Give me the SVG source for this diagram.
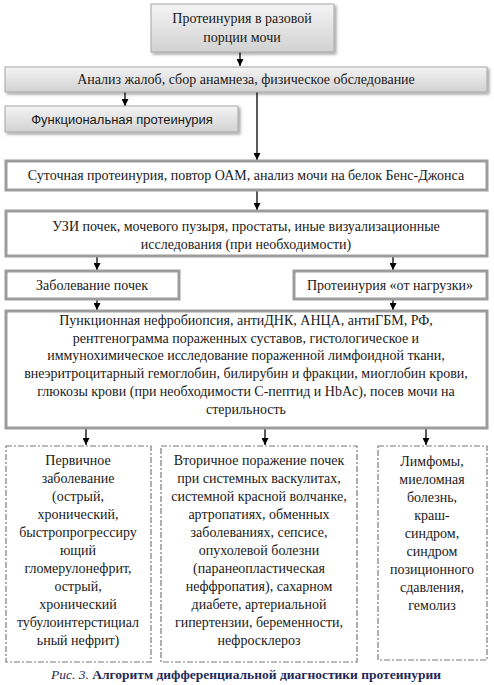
<svg xmlns="http://www.w3.org/2000/svg" width="494" height="685" viewBox="0 0 494 685">
<style>
  .t { font-family: "Liberation Serif", "Times New Roman", serif; font-size: 14px; fill: #1a1a1a; text-anchor: middle; }
  .s { font-family: "Liberation Sans", Arial, sans-serif; font-size: 13px; fill: #1a1a1a; text-anchor: middle; }
  .g { fill: url(#grad); stroke: #a6a6a6; stroke-width: 1; filter: url(#sh); }
  .b { fill: #ffffff; stroke: #9c9c9c; stroke-width: 3; }
  .d { fill: #ffffff; stroke: #7a7a7a; stroke-width: 1.2; stroke-dasharray: 6 2 2 2; }
  .c { stroke: #000; stroke-width: 1.3; fill: none; marker-end: url(#ah); }
  .cap { font-family: "Liberation Serif", "Times New Roman", serif; font-size: 13.5px; fill: #1f2a55; text-anchor: middle; }
</style>
<defs>
  <linearGradient id="grad" x1="0" y1="0" x2="0" y2="1">
    <stop offset="0" stop-color="#f4f4f4"/>
    <stop offset="1" stop-color="#d2d2d2"/>
  </linearGradient>
  <filter id="sh" x="-5%" y="-20%" width="115%" height="160%">
    <feDropShadow dx="2" dy="2" stdDeviation="1.5" flood-color="#000" flood-opacity="0.35"/>
  </filter>
  <marker id="ah" viewBox="0 0 10 10" refX="10" refY="5" markerWidth="7" markerHeight="7" markerUnits="userSpaceOnUse" orient="auto">
    <path d="M0,0 L10,5 L0,10 z" fill="#000"/>
  </marker>
</defs>

<g id="connectors">
  <line class="c" x1="240" y1="52" x2="240" y2="66"/>
  <line class="c" x1="125" y1="92" x2="125" y2="106"/>
  <line class="c" x1="257" y1="92" x2="257" y2="160"/>
  <line class="c" x1="257" y1="191" x2="257" y2="210"/>
  <line class="c" x1="97" y1="257" x2="97" y2="270"/>
  <line class="c" x1="393" y1="257" x2="393" y2="270"/>
  <line class="c" x1="97" y1="300" x2="97" y2="310"/>
  <line class="c" x1="393" y1="300" x2="393" y2="310"/>
  <line class="c" x1="86" y1="429" x2="86" y2="445"/>
  <line class="c" x1="265" y1="429" x2="265" y2="445"/>
  <line class="c" x1="426" y1="429" x2="426" y2="445"/>
</g>

<g id="n1">
  <rect class="g" x="151" y="4" width="183" height="48"/>
  <text class="t" x="242" y="23">Протеинурия в разовой</text>
  <text class="t" x="242" y="42">порции мочи</text>
</g>
<g id="n2">
  <rect class="g" x="5" y="67" width="482" height="25"/>
  <text class="t" x="246" y="84">Анализ жалоб, сбор анамнеза, физическое обследование</text>
</g>
<g id="n3">
  <rect class="g" x="5" y="106" width="233" height="26"/>
  <text class="s" x="122" y="124">Функциональная протеинурия</text>
</g>
<g id="n4">
  <rect class="b" x="6" y="161" width="481" height="29"/>
  <text class="t" x="246" y="180">Суточная протеинурия, повтор ОАМ, анализ мочи на белок Бенс-Джонса</text>
</g>
<g id="n5">
  <rect class="b" x="6" y="211" width="481" height="45"/>
  <text class="t" x="246" y="231">УЗИ почек, мочевого пузыря, простаты, иные визуализационные</text>
  <text class="t" x="246" y="249">исследования (при необходимости)</text>
</g>
<g id="n6">
  <rect class="b" x="6" y="271" width="173" height="28"/>
  <text class="t" x="92" y="290">Заболевание почек</text>
</g>
<g id="n7">
  <rect class="b" x="294" y="271" width="193" height="28"/>
  <text class="t" x="390" y="290">Протеинурия «от нагрузки»</text>
</g>
<g id="n8">
  <rect class="b" x="6" y="311" width="481" height="117"/>
  <text class="t" x="246" y="325">Пункционная нефробиопсия, антиДНК, АНЦА, антиГБМ, РФ,</text>
  <text class="t" x="246" y="343">рентгенограмма пораженных суставов, гистологическое и</text>
  <text class="t" x="246" y="360">иммунохимическое исследование пораженной лимфоидной ткани,</text>
  <text class="t" x="246" y="378">внеэритроцитарный гемоглобин, билирубин и фракции, миоглобин крови,</text>
  <text class="t" x="246" y="396">глюкозы крови (при необходимости С-пептид и HbAc), посев мочи на</text>
  <text class="t" x="246" y="414">стерильность</text>
</g>
<g id="n9">
  <rect class="d" x="6" y="446" width="145" height="216"/>
  <text class="t" x="78" y="465">Первичное</text>
  <text class="t" x="78" y="483">заболевание</text>
  <text class="t" x="78" y="501">(острый,</text>
  <text class="t" x="78" y="519">хронический,</text>
  <text class="t" x="78" y="537">быстропрогрессиру</text>
  <text class="t" x="78" y="555">ющий</text>
  <text class="t" x="78" y="573">гломерулонефрит,</text>
  <text class="t" x="78" y="591">острый,</text>
  <text class="t" x="78" y="609">хронический</text>
  <text class="t" x="78" y="627">тубулоинтерстициал</text>
  <text class="t" x="78" y="645">ьный нефрит)</text>
</g>
<g id="n10">
  <rect class="d" x="161" y="446" width="196" height="216"/>
  <text class="t" x="259" y="465">Вторичное поражение почек</text>
  <text class="t" x="259" y="483">при системных васкулитах,</text>
  <text class="t" x="259" y="501">системной красной волчанке,</text>
  <text class="t" x="259" y="519">артропатиях, обменных</text>
  <text class="t" x="259" y="537">заболеваниях, сепсисе,</text>
  <text class="t" x="259" y="555">опухолевой болезни</text>
  <text class="t" x="259" y="573">(паранеопластическая</text>
  <text class="t" x="259" y="591">неффропатия), сахарном</text>
  <text class="t" x="259" y="609">диабете, артериальной</text>
  <text class="t" x="259" y="627">гипертензии, беременности,</text>
  <text class="t" x="259" y="645">нефросклероз</text>
</g>
<g id="n11">
  <rect class="d" x="378" y="446" width="109" height="214"/>
  <text class="t" x="432" y="466">Лимфомы,</text>
  <text class="t" x="432" y="484">миеломная</text>
  <text class="t" x="432" y="502">болезнь,</text>
  <text class="t" x="432" y="520">краш-</text>
  <text class="t" x="432" y="538">синдром,</text>
  <text class="t" x="432" y="556">синдром</text>
  <text class="t" x="432" y="574">позиционного</text>
  <text class="t" x="432" y="592">сдавления,</text>
  <text class="t" x="432" y="610">гемолиз</text>
</g>

<text class="cap" x="246" y="679"><tspan font-style="italic">Рис. 3.</tspan> <tspan font-weight="bold">Алгоритм дифференциальной диагностики протеинурии</tspan></text>
</svg>
